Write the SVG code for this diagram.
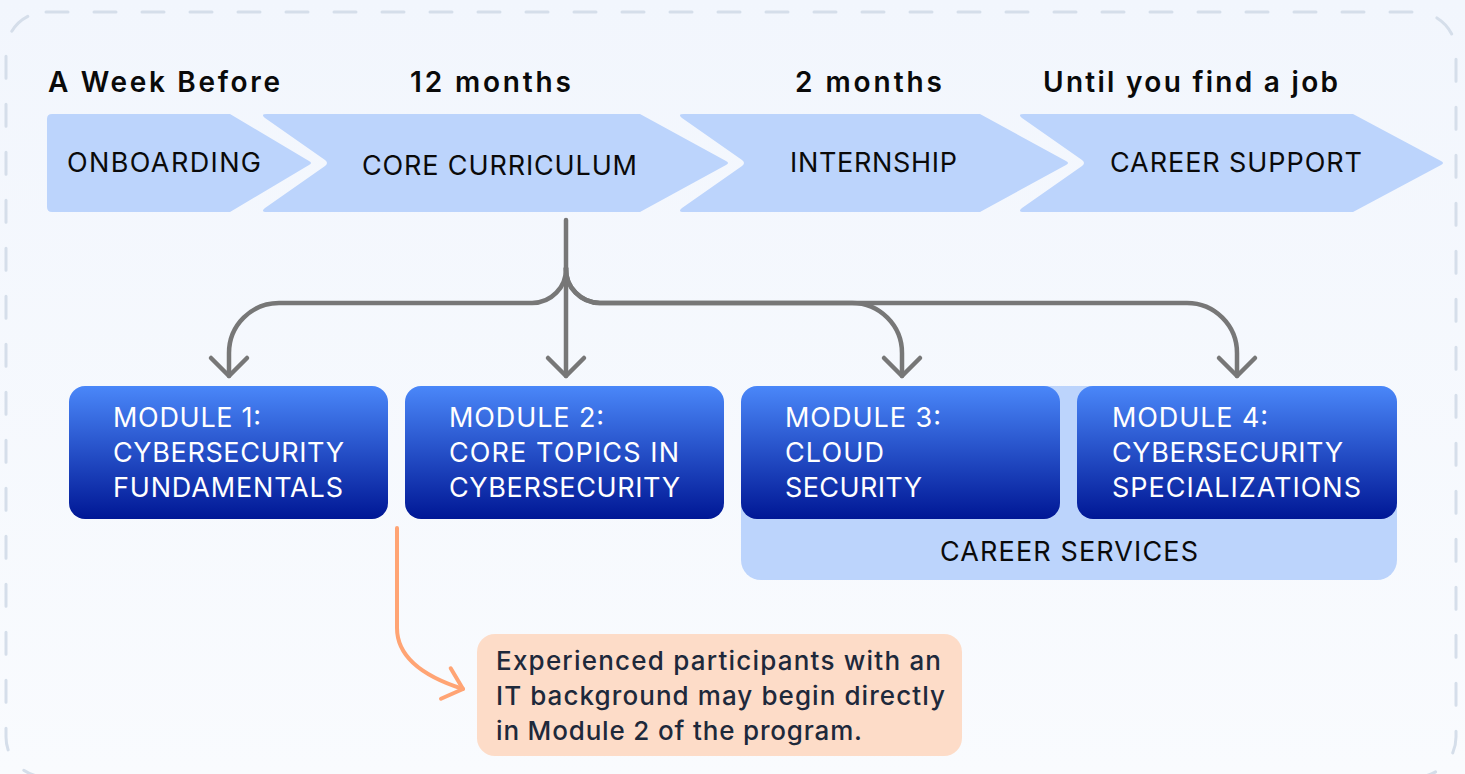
<svg xmlns="http://www.w3.org/2000/svg" width="1465" height="774" viewBox="0 0 1465 774">
  <defs>
    <linearGradient id="bg" x1="0" y1="0" x2="0" y2="1">
      <stop offset="0" stop-color="#f2f6fd"/>
      <stop offset="1" stop-color="#f9fbfe"/>
    </linearGradient>
    <linearGradient id="module" x1="0" y1="0" x2="0" y2="1">
      <stop offset="0" stop-color="#4a87f9"/>
      <stop offset="1" stop-color="#001795"/>
    </linearGradient>
    <marker id="arrow-gray" markerUnits="userSpaceOnUse" viewBox="-22 -22 26 44" markerWidth="26" markerHeight="44" refX="0" refY="0" orient="auto" overflow="visible">
      <path d="M-18,-18 L0,0 L-18,18" fill="none" stroke="#777777" stroke-width="4.5" stroke-linecap="round" stroke-linejoin="round"/>
    </marker>
    <marker id="arrow-orange" markerUnits="userSpaceOnUse" viewBox="-22 -22 26 44" markerWidth="26" markerHeight="44" refX="0" refY="0" orient="auto" overflow="visible">
      <path d="M-18,-16 L0,0 L-18,16" fill="none" stroke="#ffa474" stroke-width="4" stroke-linecap="round" stroke-linejoin="round"/>
    </marker>
    <style>
      .phase { fill: #bcd4fc; }
      .phase-label { font-family: Inter, "Liberation Sans", sans-serif; font-size: 27px; fill: #0a0a0a; }
      .period { font-family: Inter, "Liberation Sans", sans-serif; font-size: 28px; font-weight: 600; fill: #0a0a0a; }
      .module { fill: url(#module); }
      .module-label { font-family: Inter, "Liberation Sans", sans-serif; font-size: 27px; fill: #ffffff; }
      .services { fill: #bcd4fc; }
      .note { fill: #fddcc8; }
      .note-label { font-family: Inter, "Liberation Sans", sans-serif; font-size: 26px; font-weight: 500; fill: #1e293b; }
      .link { fill: none; stroke: #777777; stroke-width: 4.5; stroke-linecap: round; }
      .hint { fill: none; stroke: #ffa474; stroke-width: 4; stroke-linecap: round; }
    </style>
  </defs>

  <!-- canvas and dashed frame -->
  <rect x="0" y="0" width="1465" height="774" fill="url(#bg)"/>
  <rect x="6" y="12" width="1450" height="765" rx="40" ry="40" fill="none" stroke="#d5deea" stroke-width="3" stroke-dasharray="22 26" stroke-linecap="round"/>

  <!-- time spans above the phases -->
  <g id="periods">
    <text class="period" x="48" y="92" textLength="232" lengthAdjust="spacing">A Week Before</text>
    <text class="period" x="410" y="92" textLength="161" lengthAdjust="spacing">12 months</text>
    <text class="period" x="795" y="92" textLength="147" lengthAdjust="spacing">2 months</text>
    <text class="period" x="1043" y="92" textLength="295" lengthAdjust="spacing">Until you find a job</text>
  </g>

  <!-- program phases -->
  <g id="onboarding">
    <path class="phase" d="M52,114 H230 L309,161 Q313,163 309,165 L230,212 H52 Q47,212 47,207 V119 Q47,114 52,114 Z"/>
    <text class="phase-label" x="67" y="172" textLength="194" lengthAdjust="spacing">ONBOARDING</text>
  </g>
  <g id="core-curriculum">
    <path class="phase" d="M267,114 H640 L726,161 Q730,163 726,165 L640,212 H267 Q260,212 265,208 L325,166 Q329,163 325,160 L265,118 Q260,114 267,114 Z"/>
    <text class="phase-label" x="362" y="175" textLength="275" lengthAdjust="spacing">CORE CURRICULUM</text>
  </g>
  <g id="internship">
    <path class="phase" d="M684,114 H980 L1066,161 Q1070,163 1066,165 L980,212 H684 Q677,212 682,208 L742,166 Q746,163 742,160 L682,118 Q677,114 684,114 Z"/>
    <text class="phase-label" x="790" y="172" textLength="167" lengthAdjust="spacing">INTERNSHIP</text>
  </g>
  <g id="career-support">
    <path class="phase" d="M1024,114 H1353 L1441,161 Q1445,163 1441,165 L1353,212 H1024 Q1017,212 1022,208 L1082,166 Q1086,163 1082,160 L1022,118 Q1017,114 1024,114 Z"/>
    <text class="phase-label" x="1110" y="172" textLength="252" lengthAdjust="spacing">CAREER SUPPORT</text>
  </g>

  <!-- career services band behind modules 3 and 4 -->
  <g id="career-services">
    <rect class="services" x="741" y="386" width="656" height="194" rx="20" ry="20"/>
    <text class="phase-label" x="940" y="561" textLength="258" lengthAdjust="spacing">CAREER SERVICES</text>
  </g>

  <!-- curriculum modules -->
  <g id="module-1">
    <rect class="module" x="69" y="386" width="319" height="133" rx="16" ry="16"/>
    <text class="module-label" x="113" y="427" textLength="148" lengthAdjust="spacing">MODULE 1:</text>
    <text class="module-label" x="113" y="462" textLength="231" lengthAdjust="spacing">CYBERSECURITY</text>
    <text class="module-label" x="113" y="497" textLength="230" lengthAdjust="spacing">FUNDAMENTALS</text>
  </g>
  <g id="module-2">
    <rect class="module" x="405" y="386" width="319" height="133" rx="16" ry="16"/>
    <text class="module-label" x="449" y="427" textLength="155" lengthAdjust="spacing">MODULE 2:</text>
    <text class="module-label" x="449" y="462" textLength="230" lengthAdjust="spacing">CORE TOPICS IN</text>
    <text class="module-label" x="449" y="497" textLength="231" lengthAdjust="spacing">CYBERSECURITY</text>
  </g>
  <g id="module-3">
    <rect class="module" x="741" y="386" width="319" height="133" rx="16" ry="16"/>
    <text class="module-label" x="785" y="427" textLength="156" lengthAdjust="spacing">MODULE 3:</text>
    <text class="module-label" x="785" y="462" textLength="99" lengthAdjust="spacing">CLOUD</text>
    <text class="module-label" x="785" y="497" textLength="137" lengthAdjust="spacing">SECURITY</text>
  </g>
  <g id="module-4">
    <rect class="module" x="1077" y="386" width="320" height="133" rx="16" ry="16"/>
    <text class="module-label" x="1112" y="427" textLength="156" lengthAdjust="spacing">MODULE 4:</text>
    <text class="module-label" x="1112" y="462" textLength="231" lengthAdjust="spacing">CYBERSECURITY</text>
    <text class="module-label" x="1112" y="497" textLength="249" lengthAdjust="spacing">SPECIALIZATIONS</text>
  </g>

  <!-- note for experienced participants -->
  <g id="note">
    <rect class="note" x="477" y="634" width="485" height="122" rx="18" ry="18"/>
    <text class="note-label" x="496" y="670" textLength="445" lengthAdjust="spacing">Experienced participants with an</text>
    <text class="note-label" x="496" y="705" textLength="449" lengthAdjust="spacing">IT background may begin directly</text>
    <text class="note-label" x="496" y="740" textLength="366" lengthAdjust="spacing">in Module 2 of the program.</text>
  </g>

  <!-- connectors -->
  <g id="connectors">
    <path class="link" d="M566,220 V376" marker-end="url(#arrow-gray)"/>
    <path class="link" d="M566,268 A34,34 0 0 1 532,303 H279 A50,50 0 0 0 229,353 V376" marker-end="url(#arrow-gray)"/>
    <path class="link" d="M566,268 A34,34 0 0 0 600,303 H852 A50,50 0 0 1 902,353 V376" marker-end="url(#arrow-gray)"/>
    <path class="link" d="M566,268 A34,34 0 0 0 600,303 H1187 A50,50 0 0 1 1237,353 V376" marker-end="url(#arrow-gray)"/>
    <path class="hint" d="M397,528 V628 Q397,668 463,689" marker-end="url(#arrow-orange)"/>
  </g>
</svg>
